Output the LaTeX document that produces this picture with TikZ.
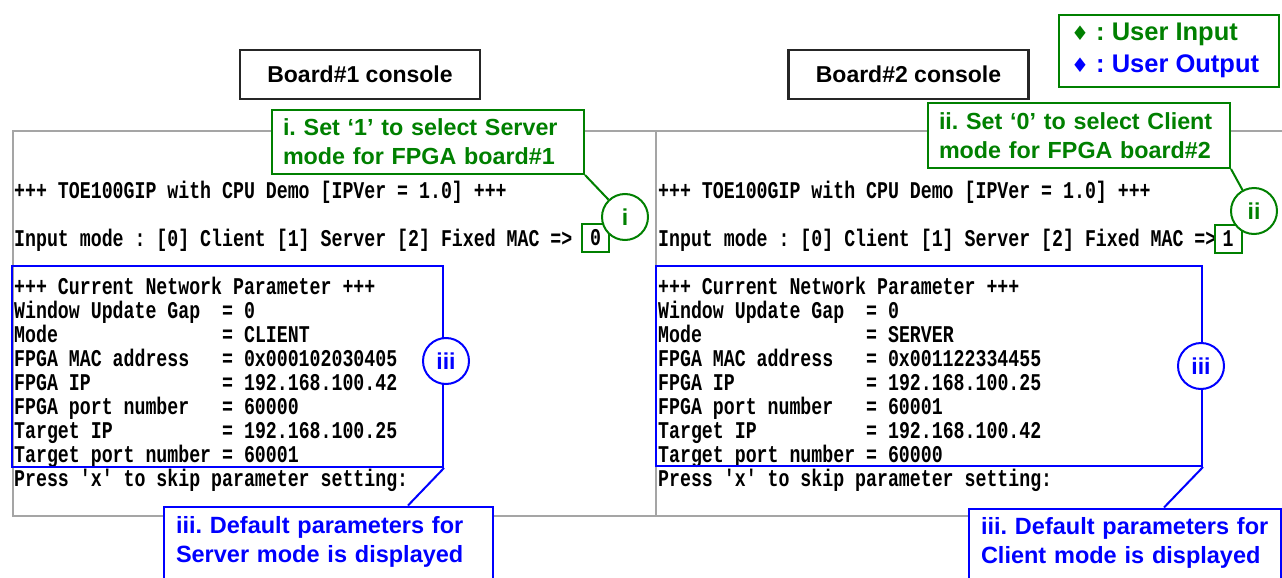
\documentclass[tikz,border=0pt]{standalone}
\usepackage{fontspec}
\setmainfont{Liberation Sans}
\newfontfamily\confont[FakeStretch=0.76]{Liberation Mono}
\newfontfamily\symfont{DejaVu Sans}
\definecolor{grn}{RGB}{0,128,0}
\definecolor{blu}{RGB}{0,0,255}
\definecolor{frm}{RGB}{165,165,165}
\frenchspacing
\begin{document}
\begin{tikzpicture}[x=1pt,y=-1pt,
  contxt/.style={anchor=west, inner sep=0pt, text height=16pt, text depth=4pt,
    font=\confont\bfseries\fontsize{24}{24}\selectfont},
  title/.style={draw=black!85, line width=2.5pt, minimum width=240pt, minimum height=49pt,
    inner sep=0pt, font=\bfseries\fontsize{23}{28}\selectfont},
  gcall/.style={draw=grn, line width=2pt, fill=white, text=grn, align=left, inner xsep=11pt,
    inner ysep=0pt, font=\bfseries\fontsize{23.3}{29}\selectfont},
  bcall/.style={draw=blu, line width=2pt, fill=white, text=blu, align=left, inner xsep=12pt,
    inner ysep=0pt, font=\bfseries\fontsize{23.5}{29}\selectfont},
  gcirc/.style={circle, draw=grn, line width=2pt, fill=white, text=grn, minimum size=46pt,
    inner sep=0pt, font=\bfseries\fontsize{23}{28}\selectfont},
  bcirc/.style={circle, draw=blu, line width=2pt, fill=white, text=blu, minimum size=46pt,
    inner sep=0pt, font=\bfseries\fontsize{23}{28}\selectfont},
  ibox/.style={draw=grn, line width=2pt, minimum width=27pt, minimum height=28pt, inner sep=0pt,
    font=\confont\bfseries\fontsize{24}{24}\selectfont},
  legtxt/.style={anchor=west, inner sep=0pt, font=\bfseries\fontsize{25.5}{28}\selectfont},
  outbox/.style={draw=blu, line width=2pt},
  glink/.style={draw=grn, line width=2pt},
  blink/.style={draw=blu, line width=2pt},
  frame/.style={draw=frm, line width=1.5pt}
]
\useasboundingbox (0,0) rectangle (1282,578);
\clip (0,0) rectangle (1282,578);
\fill[white] (0,0) rectangle (1282,578);

% console frame
\coordinate (ftl) at (13,131);
\coordinate (ftr) at (1300,131);
\coordinate (fbl) at (13,516);
\coordinate (fbr) at (1300,516);
\coordinate (fdt) at (656,131);
\coordinate (fdb) at (656,516);
\draw[frame] (ftr) -- (ftl) -- (fbl) -- (fbr);
\draw[frame] (fdt) -- (fdb);

% titles
\node[title] (t1) at (360,74.5) {Board\#1 console};
\node[title] (t2) at (908.5,74.5) {Board\#2 console};

% legend
\node[draw=grn, line width=2pt, minimum width=220pt, minimum height=72pt, inner sep=0pt] (leg) at (1169,51) {};
\node[legtxt, text=grn] (leg1) at (1071,34)
  {{\symfont\fontsize{20}{20}\selectfont ♦} : User Input};
\node[legtxt, text=blu] (leg2) at (1071,66)
  {{\symfont\fontsize{20}{20}\selectfont ♦} : User Output};

% left console
\node[contxt] (l1) at (14,192) {+++~TOE100GIP~with~CPU~Demo~[IPVer~=~1.0]~+++};
\node[contxt] (l2) at (14,240) {Input~mode~:~[0]~Client~[1]~Server~[2]~Fixed~MAC~=>};
\node[contxt] (l3) at (14,288) {+++~Current~Network~Parameter~+++};
\node[contxt] (l4) at (14,312) {Window~Update~Gap~~=~0};
\node[contxt] (l5) at (14,336) {Mode~~~~~~~~~~~~~~~=~CLIENT};
\node[contxt] (l6) at (14,360) {FPGA~MAC~address~~~=~0x000102030405};
\node[contxt] (l7) at (14,384) {FPGA~IP~~~~~~~~~~~~=~192.168.100.42};
\node[contxt] (l8) at (14,408) {FPGA~port~number~~~=~60000};
\node[contxt] (l9) at (14,432) {Target~IP~~~~~~~~~~=~192.168.100.25};
\node[contxt] (l10) at (14,456) {Target~port~number~=~60001};
\node[contxt] (l11) at (14,480) {Press~'x'~to~skip~parameter~setting:};

% right console
\node[contxt] (r1) at (658,192) {+++~TOE100GIP~with~CPU~Demo~[IPVer~=~1.0]~+++};
\node[contxt] (r2) at (658,240) {Input~mode~:~[0]~Client~[1]~Server~[2]~Fixed~MAC~=>};
\node[contxt] (r3) at (658,288) {+++~Current~Network~Parameter~+++};
\node[contxt] (r4) at (658,312) {Window~Update~Gap~~=~0};
\node[contxt] (r5) at (658,336) {Mode~~~~~~~~~~~~~~~=~SERVER};
\node[contxt] (r6) at (658,360) {FPGA~MAC~address~~~=~0x001122334455};
\node[contxt] (r7) at (658,384) {FPGA~IP~~~~~~~~~~~~=~192.168.100.25};
\node[contxt] (r8) at (658,408) {FPGA~port~number~~~=~60001};
\node[contxt] (r9) at (658,432) {Target~IP~~~~~~~~~~=~192.168.100.42};
\node[contxt] (r10) at (658,456) {Target~port~number~=~60000};
\node[contxt] (r11) at (658,480) {Press~'x'~to~skip~parameter~setting:};

% input boxes
\node[ibox] (in1) at (595.5,238) {0};
\node[ibox] (in2) at (1228,239) {1};

% blue parameter boxes
\node[outbox, minimum width=431pt, minimum height=201pt, inner sep=0pt] (pb1) at (227.5,366.5) {};
\node[outbox, minimum width=546pt, minimum height=200pt, inner sep=0pt] (pb2) at (929,366) {};

% green callouts
\node[gcall, text width=290pt, minimum height=64pt] (c1) at (428,142) {i. Set ‘1’ to select Server\\mode for FPGA board\#1};
\node[gcall, text width=280pt, minimum height=65pt] (c2) at (1079,135.5) {ii. Set ‘0’ to select Client\\mode for FPGA board\#2};
\node[gcirc] (ci1) at (625,217) {i};
\node[gcirc] (ci2) at (1254,211) {ii};
\draw[glink] (c1.south east) -- (ci1);
\draw[glink] (c2.south east) -- (ci2);

% blue circles
\node[bcirc] (bi1) at (446,361) {iii};
\node[bcirc] (bi2) at (1201,366) {iii};

% blue callouts
\node[bcall, text width=305pt, minimum height=80pt, anchor=north west] (d1) at (163,505.5)
  {\rule{0pt}{0pt}\\[-22pt]iii. Default parameters for\\Server mode is displayed\\[6pt]};
\node[bcall, text width=288pt, minimum height=80pt, anchor=north west] (d2) at (968,507.5)
  {\rule{0pt}{0pt}\\[-23pt]iii. Default parameters for\\Client mode is displayed\\[6pt]};
\coordinate (p1) at (408,505.5);
\coordinate (p2) at (1164,507.5);
\draw[blink] (pb1.south east) -- (p1);
\draw[blink] (pb2.south east) -- (p2);
\end{tikzpicture}
\end{document}
